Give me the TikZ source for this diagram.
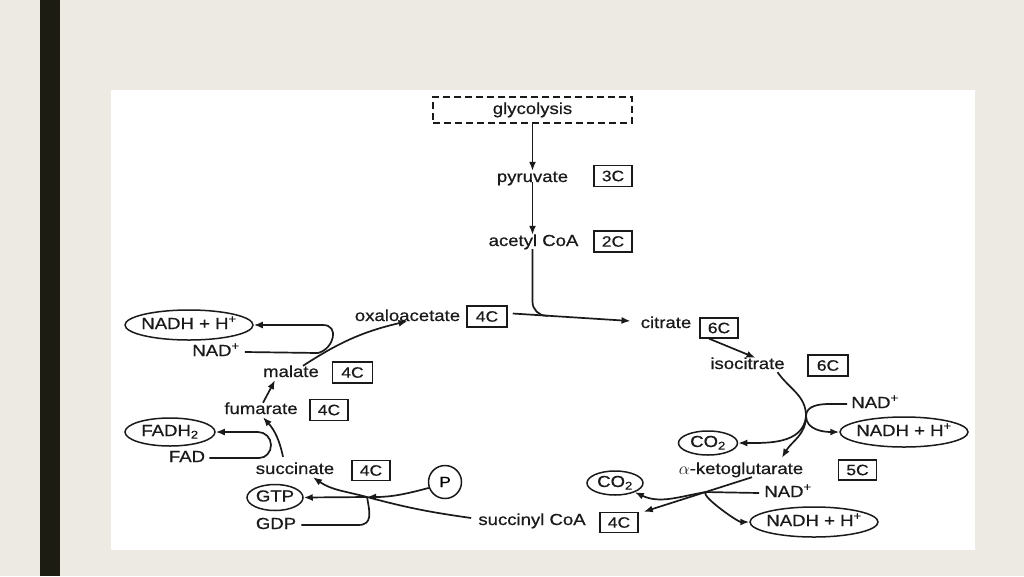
\documentclass[tikz,border=0pt]{standalone}
\usepackage{fontspec}
\setmainfont{Liberation Sans}[FakeStretch=1.16,FakeBold=0.6]
\usetikzlibrary{arrows.meta,shapes.geometric,calc}
\definecolor{bgc}{HTML}{EDEAE3}
\definecolor{barc}{HTML}{1C1C12}
\definecolor{ink}{HTML}{1A1A1A}
\begin{document}
\begin{tikzpicture}[x=1pt,y=-1pt,
  lbl/.style={font=\fontsize{16}{18}\selectfont, text=ink, inner sep=0pt, text height=11pt, text depth=3pt},
  cbox/.style={draw=ink, line width=1.5pt, font=\fontsize{15}{17}\selectfont, text=ink, inner sep=0pt, minimum width=38pt, minimum height=21pt},
  ell/.style={draw=ink, ellipse, line width=1.5pt, font=\fontsize{16}{18}\selectfont, text=ink, inner xsep=-15pt, inner ysep=-6pt, text height=11pt, text depth=3pt},
  conn/.style={draw=ink, line width=1.7pt},
  arr/.style={conn, -{Latex[length=9pt,width=7pt]}},
]
\fill[bgc] (0,0) rectangle (1024,576);
\useasboundingbox (0,0) rectangle (1024,576);
\fill[barc] (40,0) rectangle (60,576);
\fill[white] (111,90) rectangle (975,550);

% top chain
\node[lbl, draw=ink, dash pattern=on 7pt off 4pt, line width=1.5pt, minimum width=199pt, minimum height=26pt] (glyc) at (532.5,110) {glycolysis};
\node[lbl] (pyr) at (532.5,178) {pyruvate};
\node[cbox] (b3) at (613,176) {3C};
\node[lbl] (acoa) at (533.5,242) {acetyl CoA};
\node[cbox] (b2) at (613,241.5) {2C};

% cycle metabolites
\node[lbl] (oxa) at (407.5,317) {oxaloacetate};
\node[cbox, minimum width=40pt] (oxbox) at (487,316.5) {4C};
\node[lbl] (cit) at (666,324) {citrate};
\node[cbox, minimum height=20pt] (citbox) at (719,328) {6C};
\node[lbl] (iso) at (747.5,365) {isocitrate};
\node[cbox, minimum width=40pt] (isobox) at (828,365.5) {6C};
\node[lbl] (akg) at (741,470) {$\alpha$-ketoglutarate};
\node[cbox, minimum height=20pt] (akgbox) at (857.5,470) {5C};
\node[lbl] (sc) at (532,521) {succinyl CoA};
\node[cbox, minimum height=20pt] (scbox) at (619,522.5) {4C};
\node[lbl] (succ) at (295,470) {succinate};
\node[cbox, minimum height=20pt] (succbox) at (371,470.5) {4C};
\node[lbl] (fum) at (261,410) {fumarate};
\node[cbox] (fumbox) at (329,410) {4C};
\node[lbl] (mal) at (291,373) {malate};
\node[cbox, minimum width=40pt] (malbox) at (352.5,372.5) {4C};

% cofactors
\node[lbl] (nad1) at (216,352) {NAD\textsuperscript{+}};
\node[ell, minimum width=128pt, minimum height=30pt] (nadh1) at (189,325) {NADH + H\textsuperscript{+}};
\node[lbl] (fad) at (187,458) {FAD};
\node[ell, minimum width=90pt, minimum height=28pt] (fadh) at (170,432) {FADH\textsubscript{2}};
\node[lbl] (gdp) at (276,525) {GDP};
\node[ell, minimum width=56pt, minimum height=26pt] (gtp) at (275,497.5) {GTP};
\node[draw=ink, circle, line width=1.5pt, minimum size=33pt, inner sep=0pt, font=\fontsize{15}{17}\selectfont] (p) at (445,482) {P};
\node[lbl] (nad2) at (875,404) {NAD\textsuperscript{+}};
\node[ell, minimum width=128pt, minimum height=30pt] (nadh2) at (904,432) {NADH + H\textsuperscript{+}};
\node[ell, minimum width=59pt, minimum height=24pt] (co2a) at (708,443) {CO\textsubscript{2}};
\node[lbl] (nad3) at (788,493) {NAD\textsuperscript{+}};
\node[ell, minimum width=128pt, minimum height=30pt] (nadh3) at (814,522) {NADH + H\textsuperscript{+}};
\node[ell, minimum width=56pt, minimum height=24pt] (co2b) at (615,483) {CO\textsubscript{2}};

% junction coordinates
\coordinate (j1) at ($([shift={(5,-3)}]oxbox.east)!0.3!([shift={(-10,-3)}]cit.west)$);
\coordinate (j2) at (806,416);
\coordinate (j4) at ($([xshift=11]akg.south)!0.43!([xshift=5]scbox.north east)$);
\coordinate (j5) at (367,497);
\coordinate (j6) at (271,445);
\coordinate (j7) at (318,353);

% top connectors
\draw[arr] (glyc.south) -- (pyr.north);
\draw[arr] ([yshift=3]pyr.south) -- ([xshift=-1]acoa.north);
\draw[conn, rounded corners=14pt] ([xshift=-1]acoa.south) |- (j1);
\draw[arr] ([shift={(5,-3)}]oxbox.east) -- ([shift={(-10,-3)}]cit.west);

% right side
\draw[arr] ([xshift=10]citbox.south west) -- ([xshift=8]iso.north);
\draw[arr] ([xshift=30]iso.south) to[out=-55,in=90] (j2) to[out=-90,in=60] ([shift={(41,-5)}]akg.north);
\draw[arr] ([xshift=-4]nad2.west) -- ++(-18,0) to[out=180,in=90] (j2) to[out=-90,in=180] (nadh2.west);
\draw[arr] (j2) to[out=-95,in=0] (co2a.east);

% bottom right
\draw[arr] ([xshift=11]akg.south) -- ([xshift=5]scbox.north east);
\draw[arr] (j4) to[out=190,in=-25] (co2b.-25);
\draw[arr] ([xshift=-5]nad3.west) -- ([xshift=2]j4) to[out=180,in=180,looseness=0.6] (nadh3.west);

% bottom left
\draw[arr] ([shift={(-7,-3)}]sc.west) to[out=172,in=-15] (j5) to[out=165,in=-35] ([xshift=18]succ.south);
\draw[arr] (p.200) to[out=195,in=0] (j5);
\draw[arr] (j5) -- (gtp.east);
\draw[conn] ([xshift=5]gdp.east) -- ++(57,0) to[out=0,in=-80,looseness=1.3] (j5);

% left side
\draw[arr] ([shift={(-12,-6)}]succ.north) to[bend right=15] ([xshift=2]fum.south);
\draw[arr] ([xshift=4]fad.east) -- ++(50,0) to[out=0,in=-90] (j6) to[out=90,in=0] ++(-13,-13) -- (fadh.east);
\draw[arr] ([xshift=2]fum.north) -- ([xshift=-16]mal.south);
\draw[arr] ([xshift=12]mal.north) to[bend left=10] ([yshift=3]oxa.south);
\draw[arr] ([xshift=5]nad1.east) -- (j7) to[out=15,in=0,looseness=1.5] ++(5,-28) -- (nadh1.east);
\end{tikzpicture}
\end{document}
